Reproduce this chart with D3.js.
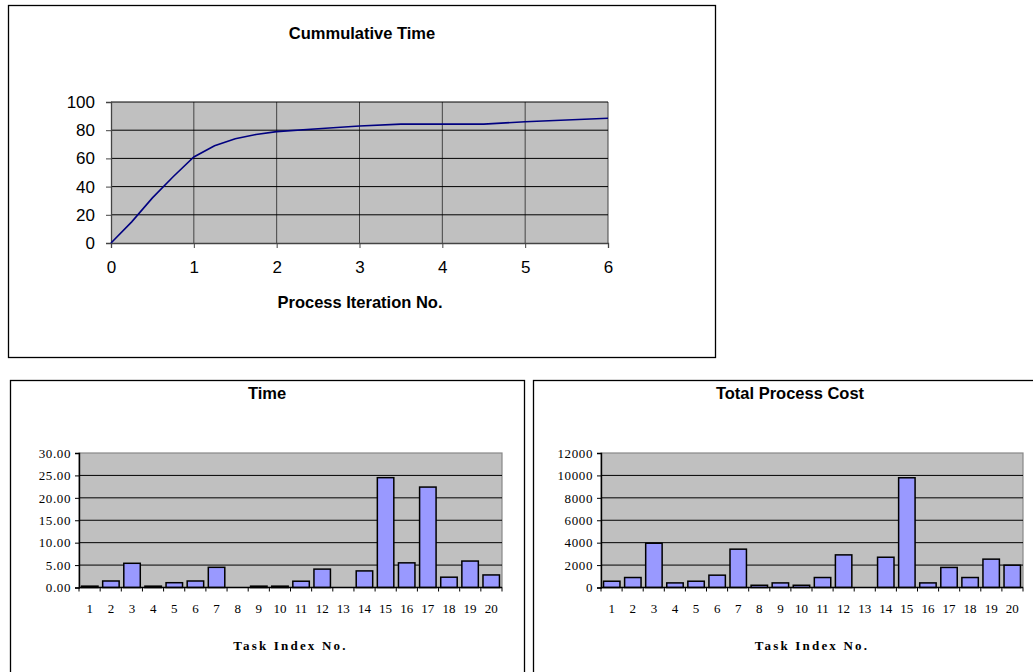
<!DOCTYPE html>
<html>
<head>
<meta charset="utf-8">
<script src="https://cdn.jsdelivr.net/npm/d3@7"></script>
<style>
  body { margin: 0; background: #fff; }
  svg { display: block; }
</style>
</head>
<body>
<svg id="chart" width="1033" height="672"></svg>
<script>
// Cumulative time per process iteration
const iterations = [0, 0.25, 0.5, 0.75, 1, 1.25, 1.5, 1.75, 2, 2.5, 3, 3.5, 4, 4.5, 5, 6];
const cumulativeTime = [0, 15, 32, 47, 61, 69, 74, 77, 79, 81, 83, 84.3, 84.3, 84.3, 86, 88.5];
const cumulativeYTicks = [0, 20, 40, 60, 80, 100];
const cumulativeXTicks = [0, 1, 2, 3, 4, 5, 6];

// Per-task values
const taskIndex = d3.range(1, 21);
const taskTime = [0.3, 1.45, 5.4, 0.3, 1.07, 1.45, 4.5, 0, 0.3, 0.3, 1.4, 4.1, 0, 3.7, 24.5, 5.5, 22.4, 2.3, 5.9, 2.8];
const taskCost = [560, 890, 3950, 410, 560, 1100, 3420, 200, 410, 200, 890, 2910, 0, 2700, 9790, 410, 1790, 890, 2530, 1990];
const timeTicks = [0, 5, 10, 15, 20, 25, 30];
const costTicks = [0, 2000, 4000, 6000, 8000, 10000, 12000];

const svg = d3.select("#chart");
const plotFill = "#c0c0c0";
const sans = "'Liberation Sans', Arial, sans-serif";
const serif = "'Liberation Serif', 'Times New Roman', serif";

// Chart frames
function frame(x, y, w, h) {
  svg.append("rect").attr("x", x + 0.5).attr("y", y + 0.5).attr("width", w).attr("height", h)
    .attr("fill", "#fff").attr("stroke", "#000").attr("stroke-width", 1.3);
}
frame(8, 5, 707, 352);
frame(10, 380, 514, 320);
frame(533, 380, 520, 320);

// ---------- Cumulative time line chart ----------
{
  const L = 111, R = 608, T = 102, B = 243;
  const x = d3.scaleLinear().domain([0, 6]).range([L, R]);
  const y = d3.scaleLinear().domain([0, 100]).range([B, T]);
  const g = svg.append("g");
  g.append("rect").attr("x", L).attr("y", T).attr("width", R - L).attr("height", B - T).attr("fill", plotFill);
  g.selectAll(".vg").data(cumulativeXTicks.slice(1)).join("line")
    .attr("x1", d => x(d)).attr("x2", d => x(d)).attr("y1", T).attr("y2", B)
    .attr("stroke", "#444").attr("stroke-width", 1);
  g.selectAll(".hg").data(cumulativeYTicks.slice(1)).join("line")
    .attr("x1", L).attr("x2", R).attr("y1", d => y(d)).attr("y2", d => y(d))
    .attr("stroke", "#000").attr("stroke-width", 1);

  const xAxis = g.append("g").attr("transform", `translate(0,${B})`)
    .call(d3.axisBottom(x).tickValues(cumulativeXTicks).tickFormat(d3.format("d")).tickSize(5).tickPadding(13));
  const yAxis = g.append("g").attr("transform", `translate(${L},0)`)
    .call(d3.axisLeft(y).tickValues(cumulativeYTicks).tickFormat(d3.format("d")).tickSize(5).tickPadding(11));
  [xAxis, yAxis].forEach(a => {
    a.select(".domain").attr("stroke", "#444").attr("stroke-width", 1.3);
    a.selectAll(".tick line").attr("stroke", "#444");
    a.selectAll("text").attr("font-family", sans).attr("font-size", 17).attr("fill", "#000");
  });

  const line = d3.line().x((d, i) => x(iterations[i])).y(d => y(d));
  g.append("path").datum(cumulativeTime).attr("d", line)
    .attr("fill", "none").attr("stroke", "#000080").attr("stroke-width", 1.6);

  g.append("text").attr("x", 362).attr("y", 39).attr("text-anchor", "middle")
    .attr("font-family", sans).attr("font-weight", "bold").attr("font-size", 16.5)
    .text("Cummulative Time");
  g.append("text").attr("x", 360).attr("y", 308).attr("text-anchor", "middle")
    .attr("font-family", sans).attr("font-weight", "bold").attr("font-size", 16.5)
    .text("Process Iteration No.");
}

// ---------- Bar charts ----------
function barChart(opts) {
  const { L, R, T, B, values, ticks, max, fmt, title, cx } = opts;
  const x = d3.scaleBand().domain(taskIndex).range([L, R]).paddingInner(0.22).paddingOuter(0.12);
  const y = d3.scaleLinear().domain([0, max]).range([B, T]);
  const g = svg.append("g");
  g.append("rect").attr("x", L).attr("y", T).attr("width", R - L).attr("height", B - T)
    .attr("fill", plotFill).attr("stroke", "#888").attr("stroke-width", 1.2);
  g.selectAll(".hg").data(ticks.slice(1, -1)).join("line")
    .attr("x1", L).attr("x2", R).attr("y1", d => y(d)).attr("y2", d => y(d))
    .attr("stroke", "#000").attr("stroke-width", 1);

  g.selectAll(".bar").data(values).join("rect")
    .attr("x", (d, i) => x(taskIndex[i]))
    .attr("y", d => y(d))
    .attr("width", x.bandwidth())
    .attr("height", d => B - y(d))
    .attr("fill", "#9999ff").attr("stroke", "#000").attr("stroke-width", d => d > 0 ? 1.5 : 0);

  // tick marks on category boundaries
  const bounds = d3.range(0, 21).map(i => L + i * (R - L) / 20);
  g.selectAll(".xt").data(bounds).join("line")
    .attr("x1", d => d).attr("x2", d => d).attr("y1", B).attr("y2", B + 4)
    .attr("stroke", "#000").attr("stroke-width", 1);

  const xAxis = g.append("g").attr("transform", `translate(0,${B})`)
    .call(d3.axisBottom(x).tickSize(0).tickPadding(16));
  xAxis.select(".domain").remove();
  xAxis.selectAll("text").attr("font-family", serif).attr("font-size", 13).attr("fill", "#000");
  g.append("line").attr("x1", L).attr("x2", R).attr("y1", B).attr("y2", B).attr("stroke", "#000").attr("stroke-width", 1.4);

  const yAxis = g.append("g").attr("transform", `translate(${L},0)`)
    .call(d3.axisLeft(y).tickValues(ticks).tickFormat(fmt).tickSize(4).tickPadding(4));
  yAxis.select(".domain").attr("stroke", "#000").attr("stroke-width", 1.4);
  yAxis.selectAll("text").attr("font-family", serif).attr("font-size", 13).attr("fill", "#000")
    .attr("letter-spacing", 0.6);

  g.append("text").attr("x", cx).attr("y", 399).attr("text-anchor", "middle")
    .attr("font-family", sans).attr("font-weight", "bold").attr("font-size", 16.5).text(title);
  g.append("text").attr("x", (L + R) / 2).attr("y", 650).attr("text-anchor", "middle")
    .attr("font-family", serif).attr("font-weight", "bold").attr("font-size", 13)
    .attr("letter-spacing", 2.2).text("Task Index No.");
}

barChart({ L: 79, R: 502, T: 453, B: 587.5, values: taskTime, ticks: timeTicks, max: 30,
  fmt: d3.format(".2f"), title: "Time", cx: 267 });
barChart({ L: 601, R: 1023, T: 453, B: 587.5, values: taskCost, ticks: costTicks, max: 12000,
  fmt: d3.format("d"), title: "Total Process Cost", cx: 790 });
</script>
</body>
</html>
